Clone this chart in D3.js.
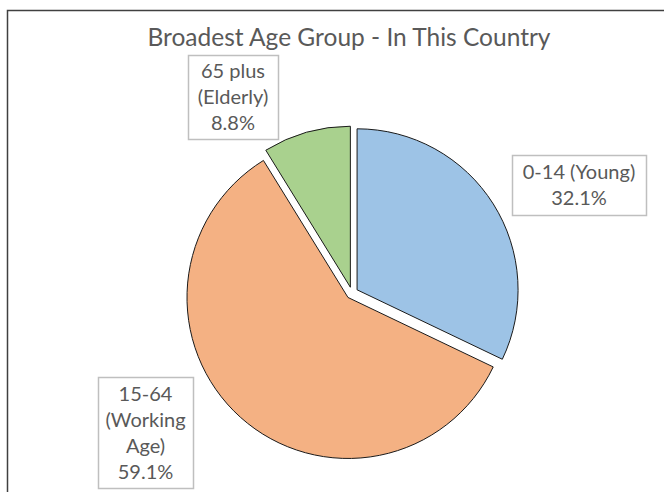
<!DOCTYPE html>
<html>
<head>
<meta charset="utf-8">
<script src="https://cdn.jsdelivr.net/npm/d3@7"></script>
<style>
  html, body { margin: 0; padding: 0; background: #fff; }
  svg { display: block; }
</style>
</head>
<body>
<svg id="chart" width="664" height="492"></svg>
<script>
// ---- data ----
const title = "Broadest Age Group - In This Country";
const categories = ["0-14 (Young)", "15-64 (Working Age)", "65 plus (Elderly)"];
const values = [32.1, 59.1, 8.8];
const labelLines = [
  ["0-14 (Young)", "32.1%"],
  ["15-64", "(Working", "Age)", "59.1%"],
  ["65 plus", "(Elderly)", "8.8%"]
];
const colors = ["#9dc3e6", "#f4b183", "#a9d18e"];

// ---- layout ----
const W = 664, H = 492;
const cx = 352, cy = 293, R = 161, explode = 6;
const font = "Lato, 'Open Sans', sans-serif";
const textColor = "#595959";
// label box layout: [x, y, w, h]
const labelBoxes = [
  [512, 155, 134, 60],
  [98, 377, 95, 111],
  [188, 55, 90, 84]
];
const lineH = 26;

const svg = d3.select("#chart");

// chart frame (clipped at right/bottom like the reference)
svg.append("rect")
  .attr("x", 7.5).attr("y", 10.5)
  .attr("width", 700).attr("height", 600)
  .attr("fill", "#fff")
  .attr("stroke", "#404040")
  .attr("stroke-width", 1.5);

// title
svg.append("text")
  .attr("x", 349).attr("y", 46)
  .attr("text-anchor", "middle")
  .attr("font-family", font)
  .attr("font-size", 24.5)
  .attr("fill", textColor)
  .text(title);

// pie
const pie = d3.pie().sort(null).value(d => d)(values);
const arc = d3.arc().innerRadius(0).outerRadius(R);

const g = svg.append("g").attr("transform", `translate(${cx},${cy})`);
g.selectAll("path")
  .data(pie)
  .join("path")
  .attr("d", arc)
  .attr("fill", (d, i) => colors[i])
  .attr("stroke", "#1a1a1a")
  .attr("stroke-width", 1)
  .attr("stroke-linejoin", "miter")
  .attr("transform", d => {
    const a = (d.startAngle + d.endAngle) / 2;
    return `translate(${explode * Math.sin(a)},${-explode * Math.cos(a)})`;
  });

// labels
labelBoxes.forEach((b, i) => {
  const [x, y, w, h] = b;
  svg.append("rect")
    .attr("x", x + 0.5).attr("y", y + 0.5)
    .attr("width", w).attr("height", h)
    .attr("fill", "#fff")
    .attr("stroke", "#bfbfbf")
    .attr("stroke-width", 1.5);
  const lines = labelLines[i];
  const midY = y + h / 2;
  const startY = midY - (lines.length - 1) * lineH / 2;
  const t = svg.append("text")
    .attr("text-anchor", "middle")
    .attr("font-family", font)
    .attr("font-size", 20)
    .attr("fill", textColor);
  lines.forEach((ln, j) => {
    t.append("tspan")
      .attr("x", x + w / 2)
      .attr("y", startY + j * lineH)
      .attr("dy", "0.35em")
      .text(ln);
  });
});
</script>
</body>
</html>
